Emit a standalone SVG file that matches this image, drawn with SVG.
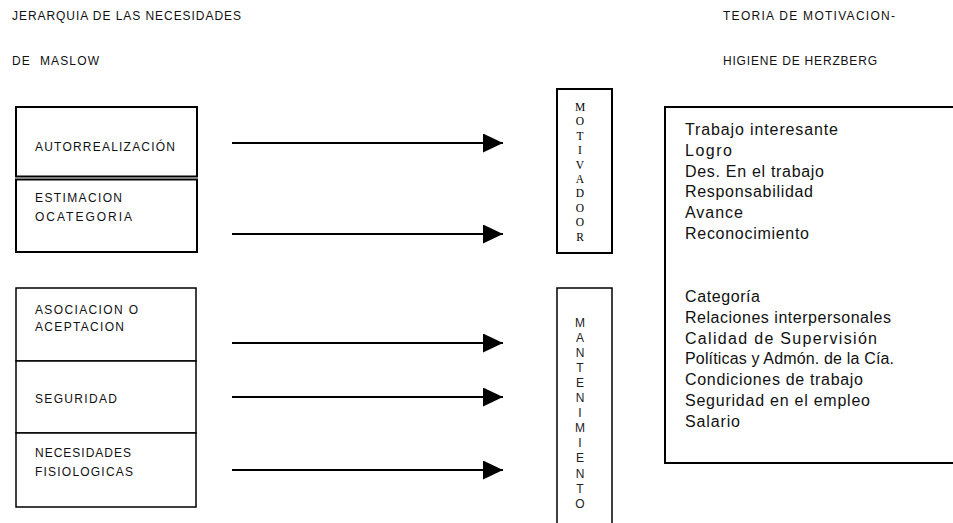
<svg xmlns="http://www.w3.org/2000/svg" width="953" height="523" viewBox="0 0 953 523">
<style>
.bg{fill:#fff}
.box{fill:#fff;stroke:#000;stroke-width:1.5}
.boxb{fill:#fff;stroke:#000;stroke-width:2}
.cap{font-family:"Liberation Sans",Arial,sans-serif;font-size:12px;fill:#111}
.lst{font-family:"Liberation Sans",Arial,sans-serif;font-size:16px;fill:#111}
.ser{font-family:"Liberation Serif","Times New Roman",serif;font-size:11.5px;fill:#000;text-anchor:middle}
.vs{font-family:"Liberation Sans",Arial,sans-serif;font-size:12px;fill:#222;text-anchor:middle}
.arr{stroke:#000;stroke-width:2;fill:none;marker-end:url(#ah)}
</style>
<defs>
<marker id="ah" markerUnits="userSpaceOnUse" markerWidth="20" markerHeight="19" refX="20" refY="9.5" orient="auto">
<path d="M0,0 L20,9.5 L0,19 Z" fill="#000"/>
</marker>
</defs>
<rect class="bg" x="0" y="0" width="953" height="523"/>
<g id="titles">
<text class="cap" x="12" y="20" textLength="229" lengthAdjust="spacing">JERARQUIA DE LAS NECESIDADES</text>
<text class="cap" x="12" y="65" textLength="87" lengthAdjust="spacing" xml:space="preserve">DE  MASLOW</text>
<text class="cap" x="723" y="20" textLength="172" lengthAdjust="spacing">TEORIA DE MOTIVACION-</text>
<text class="cap" x="723" y="65" textLength="154" lengthAdjust="spacing">HIGIENE DE HERZBERG</text>
</g>
<g id="autorrealizacion">
<rect class="boxb" x="16" y="107" width="181" height="69.5"/>
<text class="cap" x="35" y="151" textLength="140" lengthAdjust="spacing">AUTORREALIZACIÓN</text>
</g>
<g id="estimacion">
<rect class="boxb" x="16" y="179.5" width="181" height="72.5"/>
<text class="cap" x="35" y="201.5" textLength="87" lengthAdjust="spacing">ESTIMACION</text>
<text class="cap" x="35" y="221" textLength="97" lengthAdjust="spacing">OCATEGORIA</text>
</g>
<g id="asociacion">
<rect class="box" x="16" y="288" width="180" height="73"/>
<text class="cap" x="35" y="313.5" textLength="103" lengthAdjust="spacing">ASOCIACION O</text>
<text class="cap" x="35" y="331" textLength="89" lengthAdjust="spacing">ACEPTACION</text>
</g>
<g id="seguridad">
<rect class="box" x="16" y="361" width="180" height="72"/>
<text class="cap" x="35" y="402.5" textLength="82" lengthAdjust="spacing">SEGURIDAD</text>
</g>
<g id="fisiologicas">
<rect class="box" x="16" y="433" width="180" height="74"/>
<text class="cap" x="35" y="456.5" textLength="96" lengthAdjust="spacing">NECESIDADES</text>
<text class="cap" x="35" y="475.5" textLength="98" lengthAdjust="spacing">FISIOLOGICAS</text>
</g>
<g id="motivador">
<rect class="boxb" x="557" y="89" width="55" height="164"/>
<text class="ser" x="580" y="111">M</text>
<text class="ser" x="580" y="125.4">O</text>
<text class="ser" x="580" y="139.8">T</text>
<text class="ser" x="580" y="154.2">I</text>
<text class="ser" x="580" y="168.6">V</text>
<text class="ser" x="580" y="183">A</text>
<text class="ser" x="580" y="197.4">D</text>
<text class="ser" x="580" y="211.8">O</text>
<text class="ser" x="580" y="226.2">O</text>
<text class="ser" x="580" y="240.6">R</text>
</g>
<g id="mantenimiento">
<rect class="box" x="557" y="288" width="55" height="250"/>
<text class="vs" x="580" y="326.5">M</text>
<text class="vs" x="580" y="341.6">A</text>
<text class="vs" x="580" y="356.7">N</text>
<text class="vs" x="580" y="371.8">T</text>
<text class="vs" x="580" y="386.9">E</text>
<text class="vs" x="580" y="402">N</text>
<text class="vs" x="580" y="417.1">I</text>
<text class="vs" x="580" y="432.2">M</text>
<text class="vs" x="580" y="447.3">I</text>
<text class="vs" x="580" y="462.4">E</text>
<text class="vs" x="580" y="477.5">N</text>
<text class="vs" x="580" y="492.6">T</text>
<text class="vs" x="580" y="507.7">O</text>
</g>
<g id="factores">
<rect class="boxb" x="665" y="107" width="300" height="356"/>
<text class="lst" x="685" y="135" textLength="153" lengthAdjust="spacing">Trabajo interesante</text>
<text class="lst" x="685" y="155.8" textLength="47" lengthAdjust="spacing">Logro</text>
<text class="lst" x="685" y="176.6" textLength="139" lengthAdjust="spacing">Des. En el trabajo</text>
<text class="lst" x="685" y="197.4" textLength="128" lengthAdjust="spacing">Responsabilidad</text>
<text class="lst" x="685" y="218.2" textLength="58" lengthAdjust="spacing">Avance</text>
<text class="lst" x="685" y="239" textLength="124" lengthAdjust="spacing">Reconocimiento</text>
<text class="lst" x="685" y="302" textLength="75" lengthAdjust="spacing">Categoría</text>
<text class="lst" x="685" y="322.8" textLength="206" lengthAdjust="spacing">Relaciones interpersonales</text>
<text class="lst" x="685" y="343.6" textLength="192" lengthAdjust="spacing">Calidad de Supervisión</text>
<text class="lst" x="685" y="364.4" textLength="209" lengthAdjust="spacing">Políticas y Admón. de la Cía.</text>
<text class="lst" x="685" y="385.2" textLength="178" lengthAdjust="spacing">Condiciones de trabajo</text>
<text class="lst" x="685" y="406" textLength="185" lengthAdjust="spacing">Seguridad en el empleo</text>
<text class="lst" x="685" y="426.8" textLength="55" lengthAdjust="spacing">Salario</text>
</g>
<g id="connectors">
<line class="arr" x1="232" y1="143" x2="503" y2="143"/>
<line class="arr" x1="232" y1="234" x2="503" y2="234"/>
<line class="arr" x1="232" y1="343" x2="503" y2="343"/>
<line class="arr" x1="232" y1="397" x2="503" y2="397"/>
<line class="arr" x1="232" y1="470" x2="503" y2="470"/>
</g>
</svg>
